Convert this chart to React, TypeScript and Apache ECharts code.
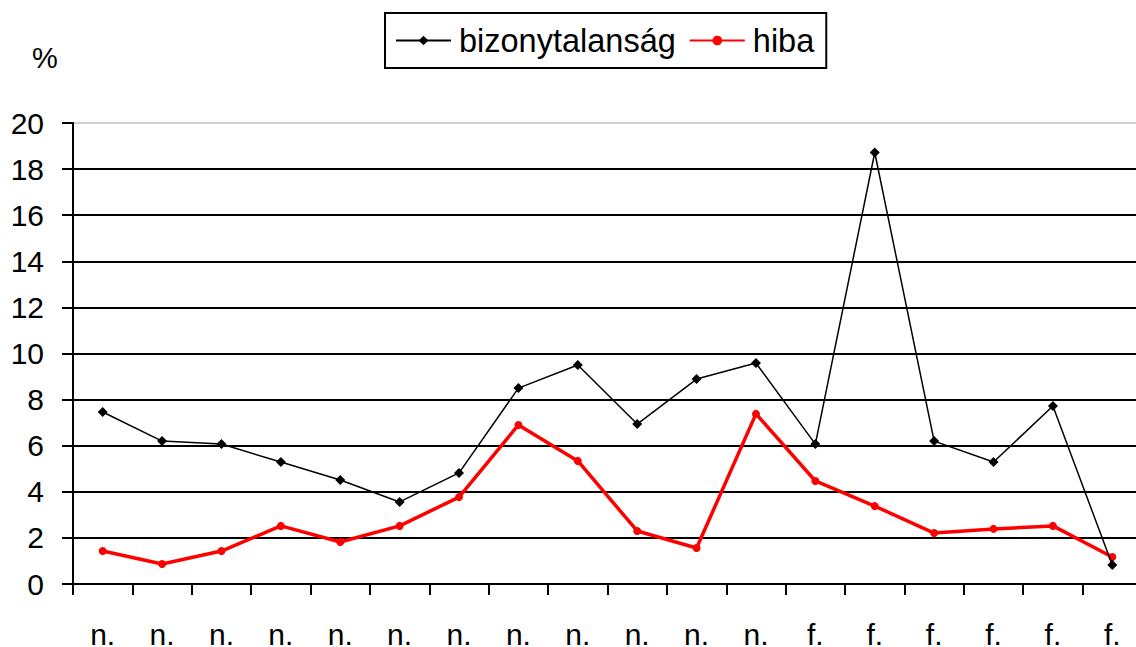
import React, { useEffect, useRef } from "react";
import * as echarts from "echarts";

const categories = ["n.", "n.", "n.", "n.", "n.", "n.", "n.", "n.", "n.", "n.", "n.", "n.", "f.", "f.", "f.", "f.", "f.", "f."];
const bizonytalansag = [7.46, 6.2, 6.07, 5.29, 4.51, 3.56, 4.82, 8.5, 9.5, 6.94, 8.89, 9.59, 6.07, 18.72, 6.2, 5.29, 7.72, 0.82];
const hiba = [1.43, 0.87, 1.43, 2.52, 1.82, 2.52, 3.77, 6.9, 5.34, 2.3, 1.56, 7.38, 4.47, 3.38, 2.21, 2.39, 2.52, 1.17];
const yMin = 0;
const yMax = 20;
const yInterval = 2;

const FONT = "Liberation Sans, Arial, sans-serif";

export default function App() {
  const ref = useRef<HTMLDivElement>(null);
  useEffect(() => {
    if (!ref.current) return;
    const chart = echarts.init(ref.current, undefined, { renderer: "svg" });
    const gridColors: string[] = [];
    for (let v = yMin; v <= yMax; v += yInterval) gridColors.push(v === yMax ? "#d0d0d0" : "#000000");
    chart.setOption({
      animation: false,
      backgroundColor: "#ffffff",
      textStyle: { fontFamily: FONT },
      title: {
        text: "%",
        left: 32,
        top: 43,
        padding: 0,
        textStyle: { fontFamily: FONT, fontSize: 29, fontWeight: "normal", color: "#000" },
      },
      legend: {
        left: 385,
        top: 13,
        padding: [11, 12, 11, 10],
        borderColor: "#000",
        borderWidth: 2,
        itemWidth: 55,
        itemHeight: 12,
        itemGap: 13,
        textStyle: { fontFamily: FONT, fontSize: 32.5, color: "#000", lineHeight: 33, padding: [0, 0, 0, 3] },
        data: ["bizonytalanság", "hiba"],
      },
      grid: { left: 73, right: -6, top: 123, bottom: 63, containLabel: false, outerBoundsMode: "none" },
      xAxis: {
        type: "category",
        data: categories,
        boundaryGap: true,
        axisLine: { show: true, lineStyle: { color: "#000", width: 2 } },
        axisTick: { show: true, inside: false, length: 11, lineStyle: { color: "#000", width: 2 }, alignWithLabel: false },
        axisLabel: { interval: 0, margin: 35, fontSize: 30, color: "#000", fontFamily: FONT },
        splitLine: { show: false },
      },
      yAxis: {
        type: "value",
        min: yMin,
        max: yMax,
        interval: yInterval,
        axisLine: { show: true, lineStyle: { color: "#000", width: 2 } },
        axisTick: { show: true, inside: false, length: 11, lineStyle: { color: "#000", width: 2 } },
        axisLabel: { margin: 29, fontSize: 30, color: "#000", fontFamily: FONT },
        splitLine: { show: true, lineStyle: { color: gridColors, width: 2 } },
      },
      series: [
        {
          name: "bizonytalanság",
          type: "line",
          data: bizonytalansag,
          symbol: "diamond",
          symbolSize: 10,
          showAllSymbol: true,
          lineStyle: { color: "#000", width: 1.5 },
          itemStyle: { color: "#000" },
          z: 3,
        },
        {
          name: "hiba",
          type: "line",
          data: hiba,
          symbol: "circle",
          symbolSize: 8,
          showAllSymbol: true,
          lineStyle: { color: "#ff0000", width: 3.5 },
          itemStyle: { color: "#ff0000" },
          z: 2,
        },
      ],
    });
    return () => chart.dispose();
  }, []);
  return <div ref={ref} style={{ position: "fixed", left: 0, top: 0, width: 1136, height: 647 }} />;
}
